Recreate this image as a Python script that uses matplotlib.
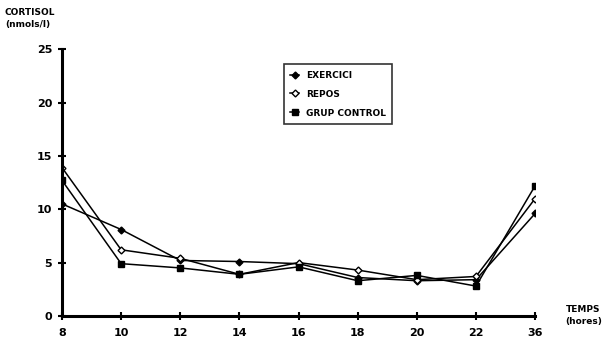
import matplotlib.pyplot as plt
import numpy as np

# hours (categorical, evenly spaced on the original axis)
hores = ['8', '10', '12', '14', '16', '18', '20', '22', '36']
exercici = [10.5, 8.1, 5.2, 5.1, 4.9, 3.6, 3.3, 3.4, 9.6]
repos = [13.9, 6.2, 5.4, 3.9, 5.0, 4.3, 3.4, 3.7, 11.0]
grup_control = [12.7, 4.9, 4.5, 3.9, 4.6, 3.3, 3.8, 2.8, 12.2]

plt.rcParams['font.family'] = ['DejaVu Sans']
plt.rcParams['font.weight'] = 'bold'

fig = plt.figure(figsize=(6.05, 3.39), dpi=100)
ax = fig.add_axes([0.1025, 0.068, 0.782, 0.787])

x = np.arange(len(hores))
ax.plot(x, exercici, color='black', lw=1.1, marker='D', ms=3.5,
        mfc='black', mec='black', label='EXERCICI')
ax.plot(x, repos, color='black', lw=1.1, marker='D', ms=3.5,
        mfc='white', mec='black', label='REPOS')
ax.plot(x, grup_control, color='black', lw=1.1, marker='s', ms=4,
        mfc='black', mec='black', label='GRUP CONTROL')

ax.set_xlim(0, len(hores) - 1)
ax.set_ylim(0, 25)
ax.set_xticks(x)
ax.set_xticklabels(hores)
ax.set_yticks([0, 5, 10, 15, 20, 25])

for s in ['top', 'right']:
    ax.spines[s].set_visible(False)
for s in ['left', 'bottom']:
    ax.spines[s].set_linewidth(2.2)
ax.tick_params(direction='inout', length=6, width=1.5, labelsize=8)
ax.tick_params(axis='x', pad=6)
ax.tick_params(axis='y', pad=4)

leg = ax.legend(loc='upper left', bbox_to_anchor=(0.46, 0.96), fontsize=6.5,
                frameon=True, fancybox=False, edgecolor='black',
                handlelength=0.9, handletextpad=0.8, labelspacing=1.1,
                borderpad=0.7)
leg.get_frame().set_linewidth(1.2)

fig.text(0.008, 0.945, 'CORTISOL\n(nmols/l)', fontsize=6.5, fontweight='bold',
         va='center', ha='left', linespacing=1.4)
fig.text(0.935, 0.07, 'TEMPS\n(hores)', fontsize=6.5, fontweight='bold',
         va='center', ha='left', linespacing=1.4)

fig.savefig('out.png', dpi=100)
